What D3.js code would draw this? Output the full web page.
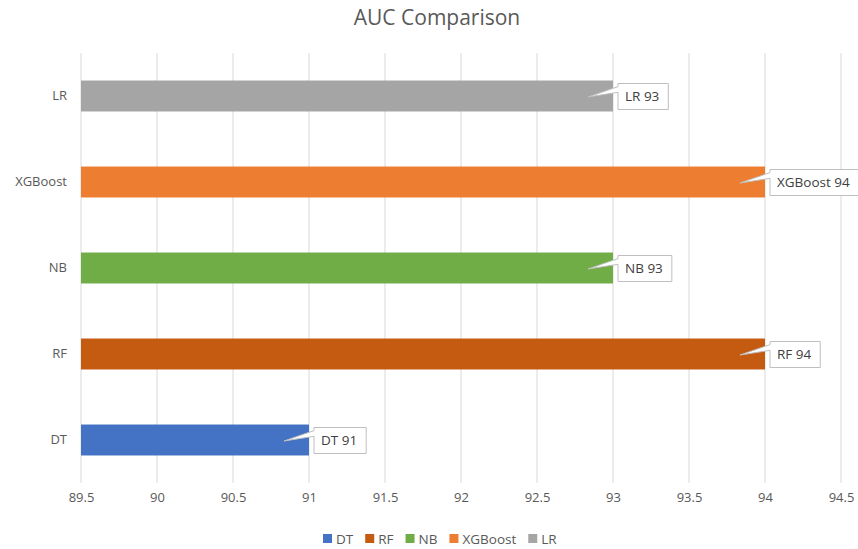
<!DOCTYPE html>
<html>
<head>
<meta charset="utf-8">
<script src="https://cdn.jsdelivr.net/npm/d3@7"></script>
<style>
  html, body { margin: 0; padding: 0; background: #fff; }
  text { font-family: "Open Sans", "Liberation Sans", sans-serif; }
</style>
</head>
<body>
<svg id="chart" width="858" height="549"></svg>
<script>
// Model names (bottom to top) and AUC scores
const models = ["DT", "RF", "NB", "XGBoost", "LR"];
const auc = [91, 94, 93, 94, 93];
const colors = ["#4472C4", "#C55A11", "#70AD47", "#ED7D31", "#A5A5A5"];
const xTicks = [89.5, 90, 90.5, 91, 91.5, 92, 92.5, 93, 93.5, 94, 94.5];

const svg = d3.select("#chart");
const W = 858, H = 549;
const m = { left: 81, right: 17, top: 53, bottom: 66 };
const FONT = "'Open Sans', 'Liberation Sans', sans-serif";

const x = d3.scaleLinear().domain([89.5, 94.5]).range([m.left, W - m.right]);
const y = d3.scaleBand().domain(models.slice().reverse()).range([m.top, H - m.bottom]).paddingInner(0.64).paddingOuter(0.32);

// Title
svg.append("text").attr("x", 437).attr("y", 25).attr("text-anchor", "middle")
  .attr("font-size", 21).attr("fill", "#595959").text("AUC Comparison");

// Vertical gridlines
svg.append("g").selectAll("line").data(xTicks).join("line")
  .attr("x1", d => x(d)).attr("x2", d => x(d))
  .attr("y1", m.top).attr("y2", H - m.bottom)
  .attr("stroke", "#d9d9d9").attr("stroke-width", 1);

// X axis tick labels
const xAxis = d3.axisBottom(x).tickValues(xTicks).tickSize(0).tickPadding(10).tickFormat(d3.format("~g"));
const gx = svg.append("g").attr("transform", `translate(0,${H - m.bottom})`).call(xAxis);
gx.select(".domain").remove();
gx.selectAll("text").attr("font-size", 13).attr("fill", "#595959").attr("font-family", FONT);

// Y axis category labels
const yAxis = d3.axisLeft(y).tickSize(0).tickPadding(14);
const gy = svg.append("g").attr("transform", `translate(${m.left},0)`).call(yAxis);
gy.select(".domain").remove();
gy.selectAll("text").attr("font-size", 13).attr("fill", "#595959").attr("font-family", FONT);

const rows = models.map((name, i) => ({ name, value: auc[i], color: colors[i] }));

// Bars
svg.append("g").selectAll("rect").data(rows).join("rect")
  .attr("x", x(89.5))
  .attr("y", d => y(d.name))
  .attr("width", d => x(d.value) - x(89.5))
  .attr("height", y.bandwidth())
  .attr("fill", d => d.color);

// Callout data labels
const labels = svg.append("g");
rows.forEach(d => {
  const cy = y(d.name) + y.bandwidth() / 2;
  const left = x(d.value) + 5;
  const g = labels.append("g");
  const t = g.append("text").attr("x", left + 7).attr("y", cy + 5)
    .attr("font-size", 13.5).attr("fill", "#404040").text(`${d.name} ${d.value}`);
  const tw = t.node().getComputedTextLength();
  const top = cy - 12.5, h = 26, right = left + tw + 16;
  const tipX = x(d.value) - 25, tipY = cy + 1;
  const path = `M${left},${top} L${right},${top} L${right},${top + h} L${left},${top + h} ` +
    `L${left},${top + h * 0.34} L${tipX},${tipY} L${left},${top + h * 0.12} Z`;
  g.insert("path", "text").attr("d", path)
    .attr("fill", "#fff").attr("stroke", "#bfbfbf").attr("stroke-width", 1);
});

// Legend
const legend = svg.append("g").attr("transform", `translate(0,${H - 5})`);
let lx = 323;
rows.forEach(d => {
  const item = legend.append("g").attr("transform", `translate(${lx},0)`);
  item.append("rect").attr("x", 0).attr("y", -10).attr("width", 9).attr("height", 9).attr("fill", d.color);
  const t = item.append("text").attr("x", 13).attr("y", 0).attr("font-size", 13.5).attr("fill", "#595959").text(d.name);
  lx += 13 + t.node().getComputedTextLength() + 12;
});
</script>
</body>
</html>
